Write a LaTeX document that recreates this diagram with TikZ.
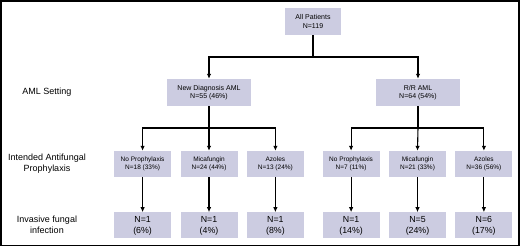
\documentclass[tikz,border=0pt]{standalone}
\usepackage{fontspec}
\setmainfont{Liberation Sans}
\usetikzlibrary{arrows.meta,positioning}
\definecolor{boxfill}{RGB}{204,204,225}
\tikzset{
  cohort/.style={rectangle, fill=boxfill, draw=none, align=center, inner sep=0pt,
    minimum width=84pt, minimum height=27pt, font=\fontsize{7}{8.4}\selectfont},
  armbox/.style={cohort, minimum width=57pt, minimum height=26pt,
    font=\fontsize{6.5}{8}\selectfont},
  ifibox/.style={armbox, font=\fontsize{8.8}{11}\selectfont},
  rowlabel/.style={align=center, font=\fontsize{9}{11}\selectfont},
  link/.style={line width=1.1pt, draw=black},
  flow/.style={link, -{Latex[length=5pt,width=4.5pt]}},
}
\begin{document}
\begin{tikzpicture}[x=1pt, y=-1pt, node distance=9pt]
  \useasboundingbox (0,0) rectangle (520,247);
  \draw[line width=1.2pt] (1,1) rectangle (519,245.5);
  % top of the tree
  \node[cohort, minimum width=56pt] (all) at (313,21.5) {All Patients\\N=119};
  \node[cohort] (nd) at (209,92.5) {New Diagnosis AML\\N=55 (46\%)};
  \node[cohort] (rr) at (418,92.5) {R/R AML\\N=64 (54\%)};
  % intended prophylaxis
  \node[armbox] (ndmica) at (209,164) {Micafungin\\N=24 (44\%)};
  \node[armbox, left=of ndmica] (ndnone) {No Prophylaxis\\N=18 (33\%)};
  \node[armbox, right=of ndmica] (ndazol) {Azoles\\N=13 (24\%)};
  \node[armbox] (rrmica) at (417.5,164) {Micafungin\\N=21 (33\%)};
  \node[armbox, left=of rrmica] (rrnone) {No Prophylaxis\\N=7 (11\%)};
  \node[armbox, right=of rrmica] (rrazol) {Azoles\\N=36 (56\%)};
  % invasive fungal infection
  \foreach \arm/\txt in {ndnone/{N=1\\(6\%)}, ndmica/{N=1\\(4\%)}, ndazol/{N=1\\(8\%)},
      rrnone/{N=1\\(14\%)}, rrmica/{N=5\\(24\%)}, rrazol/{N=6\\(17\%)}}
    \node[ifibox, below=35pt of \arm] (\arm ifi) {\txt};
  % row labels
  \node[rowlabel] (setting) at (47,92) {AML Setting};
  \node[rowlabel] (intent) at (47,163.5) {Intended Antifungal\\Prophylaxis};
  \node[rowlabel] (infect) at (47,225) {Invasive fungal\\infection};
  % connectors
  \coordinate (split) at (313,57);
  \coordinate (ndsplit) at (209,128);
  \coordinate (rrsplit) at (418,128);
  \draw[link] (all) -- (split);
  \draw[flow] (split) -| (nd);
  \draw[flow] (split) -| (rr);
  \draw[link] (nd) -- (ndsplit);
  \draw[flow] (ndsplit) -| (ndnone);
  \draw[flow] (ndsplit) -- (ndmica);
  \draw[flow] (ndsplit) -| (ndazol);
  \draw[link] (rr) -- (rrsplit);
  \draw[flow] (rrsplit) -| (rrnone);
  \draw[flow] (rrsplit) -- (rrmica.north);
  \draw[flow] (rrsplit) -| (rrazol);
  \foreach \arm in {ndnone,ndmica,ndazol,rrnone,rrmica,rrazol}
    \draw[flow] (\arm) -- (\arm ifi);
\end{tikzpicture}
\end{document}
